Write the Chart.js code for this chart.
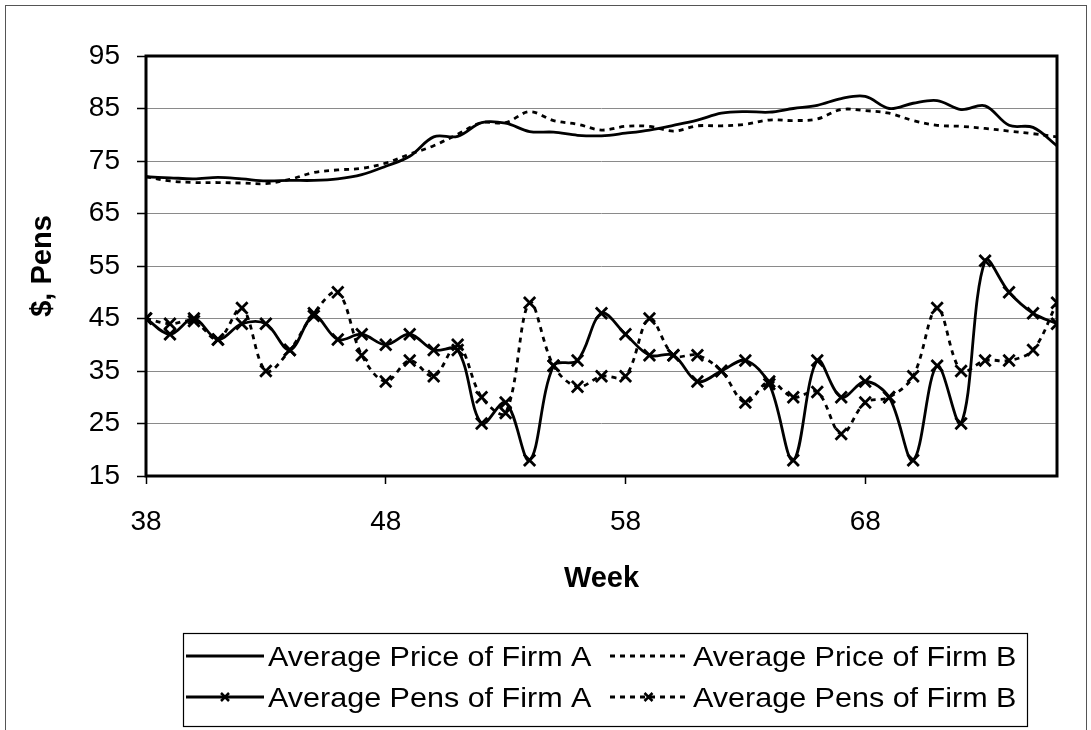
<!DOCTYPE html>
<html><head><meta charset="utf-8">
<script src="https://cdn.jsdelivr.net/npm/chart.js@4.4.0/dist/chart.umd.min.js"></script>
<style>html,body{margin:0;padding:0;background:#fff;}#wrap{position:relative;width:1091px;height:730px;}</style>
</head><body><div id="wrap"><canvas id="c"></canvas></div>
<script>
const weeks = [38,39,40,41,42,43,44,45,46,47,48,49,50,51,52,53,54,55,56,57,58,59,60,61,62,63,64,65,66,67,68,69,70,71,72,73,74,75,76];
const priceA = [72.0,71.8,71.6,71.9,71.6,71.2,71.3,71.3,71.6,72.4,74.0,75.9,79.6,79.7,82.3,82.2,80.6,80.5,79.9,79.8,80.3,80.9,81.8,82.8,84.1,84.4,84.3,85.0,85.6,86.9,87.3,85.0,86.0,86.5,84.8,85.5,81.8,81.4,77.9];
const priceB = [72.0,71.2,70.9,70.9,70.8,70.7,71.5,72.8,73.3,73.6,74.6,76.3,77.9,80.1,82.3,82.3,84.4,82.7,82.0,80.9,81.6,81.6,80.7,81.7,81.7,82.0,82.8,82.7,83.0,84.8,84.6,84.1,82.7,81.8,81.6,81.2,80.7,80.2,79.6];
const pensA = [45,42,45,41,44,44,39,45.5,41,42,40,42,39,39,25,29,18,36,37,46,42,38,38,33,35,37,32.5,18,37,30,33,30,18,36,25,56,50,46,44];
const pensB = [45,44,44.5,41,47,35,39,46,50,38,33,37,34,40,30,27,48,36,32,34,34,45,38,38,35,29,33,30,31,23,29,30,34,47,35,37,37,39,48];
const xTickValues = [38,48,58,68];
const seriesNames = ['Average Price of Firm A','Average Price of Firm B','Average Pens of Firm A','Average Pens of Firm B'];
const xTitle = 'Week';
const yTitle = '$, Pens';

const FONT = '"Liberation Sans", Arial, sans-serif';
const toXY = arr => weeks.map((w, i) => ({x: w, y: arr[i]}));

const framePlugin = {
  id: 'frame',
  beforeDatasetsDraw(chart) {
    const {ctx, chartArea: a} = chart;
    ctx.save();
    ctx.strokeStyle = '#000';
    ctx.lineWidth = 3;
    ctx.strokeRect(a.left, a.top, a.right - a.left, a.bottom - a.top);
    ctx.restore();
  }
};

function drawX(ctx, x, y, r, lw) {
  ctx.save();
  ctx.setLineDash([]);
  ctx.lineWidth = lw;
  ctx.beginPath();
  ctx.moveTo(x - r, y - r); ctx.lineTo(x + r, y + r);
  ctx.moveTo(x - r, y + r); ctx.lineTo(x + r, y - r);
  ctx.stroke();
  ctx.restore();
}

const legendPlugin = {
  id: 'customLegend',
  afterDraw(chart) {
    const ctx = chart.ctx;
    ctx.save();
    ctx.strokeStyle = '#555';
    ctx.lineWidth = 1;
    ctx.strokeRect(5.5, 5.5, 1081, 760);
    const box = {x: 183, y: 633, w: 844, h: 93};
    ctx.strokeStyle = '#000';
    ctx.lineWidth = 1.2;
    ctx.strokeRect(box.x + 0.5, box.y + 0.5, box.w, box.h);
    const cols = [{s0: 186, s1: 264, tx: 268}, {s0: 610, s1: 687, tx: 693}];
    const rows = [656, 697];
    chart.data.datasets.forEach((ds, i) => {
      const col = cols[i % 2], row = rows[Math.floor(i / 2)];
      ctx.strokeStyle = '#000';
      ctx.lineWidth = 2.8;
      ctx.setLineDash(ds.borderDash || []);
      ctx.beginPath(); ctx.moveTo(col.s0, row); ctx.lineTo(col.s1, row); ctx.stroke();
      ctx.setLineDash([]);
      if (ds.pointRadius > 0) drawX(ctx, (col.s0 + col.s1) / 2, row, 4, 2.5);
      ctx.font = '28px ' + FONT;
      ctx.fillStyle = '#000';
      ctx.textBaseline = 'alphabetic';
      ctx.textAlign = 'left';
      ctx.save();
      ctx.translate(col.tx, row + 10);
      ctx.scale(1.09, 1);
      ctx.fillText(ds.label, 0, 0);
      ctx.restore();
    });
    ctx.restore();
  }
};

const lineBase = {borderColor: '#000', backgroundColor: '#000', fill: false, tension: 0.35, borderWidth: 2.8};

new Chart(document.getElementById('c'), {
  type: 'line',
  data: {
    datasets: [
      Object.assign({}, lineBase, {label: seriesNames[0], data: toXY(priceA), pointRadius: 0, borderDash: []}),
      Object.assign({}, lineBase, {label: seriesNames[1], data: toXY(priceB), pointRadius: 0, borderDash: [5, 5]}),
      Object.assign({}, lineBase, {label: seriesNames[2], data: toXY(pensA), pointRadius: 8, pointStyle: 'crossRot', pointBorderWidth: 2.8, pointBorderColor: '#000', borderDash: []}),
      Object.assign({}, lineBase, {label: seriesNames[3], data: toXY(pensB), pointRadius: 8, pointStyle: 'crossRot', pointBorderWidth: 2.8, pointBorderColor: '#000', borderDash: [5, 5]})
    ]
  },
  options: {
    responsive: true,
    maintainAspectRatio: false,
    animation: false,
    events: [],
    layout: {padding: {left: 26, right: 34, top: 56, bottom: 134}},
    plugins: {legend: {display: false}, tooltip: {enabled: false}},
    scales: {
      x: {
        type: 'linear', min: 38, max: 76,
        afterBuildTicks: s => { s.ticks = xTickValues.map(v => ({value: v})); },
        afterFit: s => { s.height = 120; },
        grid: {drawOnChartArea: false, drawTicks: true, tickLength: 8, tickColor: '#000', tickWidth: 1.5},
        border: {display: false},
        ticks: {font: {family: FONT, size: 28}, color: '#000', padding: 21, maxRotation: 0, autoSkip: false},
        title: {display: true, text: xTitle, font: {family: FONT, size: 29, weight: 'bold'}, color: '#000', padding: 0}
      },
      y: {
        min: 15, max: 95,
        afterFit: s => { s.width = 120; },
        ticks: {stepSize: 10, font: {family: FONT, size: 28}, color: '#000', padding: 17},
        grid: {color: '#8a8a8a', lineWidth: 1, tickLength: 9, tickColor: '#000', tickWidth: 1.5},
        border: {display: false},
        title: {display: true, text: yTitle, font: {family: FONT, size: 29, weight: 'bold'}, color: '#000', padding: 0}
      }
    }
  },
  plugins: [framePlugin, legendPlugin]
});
</script>
</body></html>
